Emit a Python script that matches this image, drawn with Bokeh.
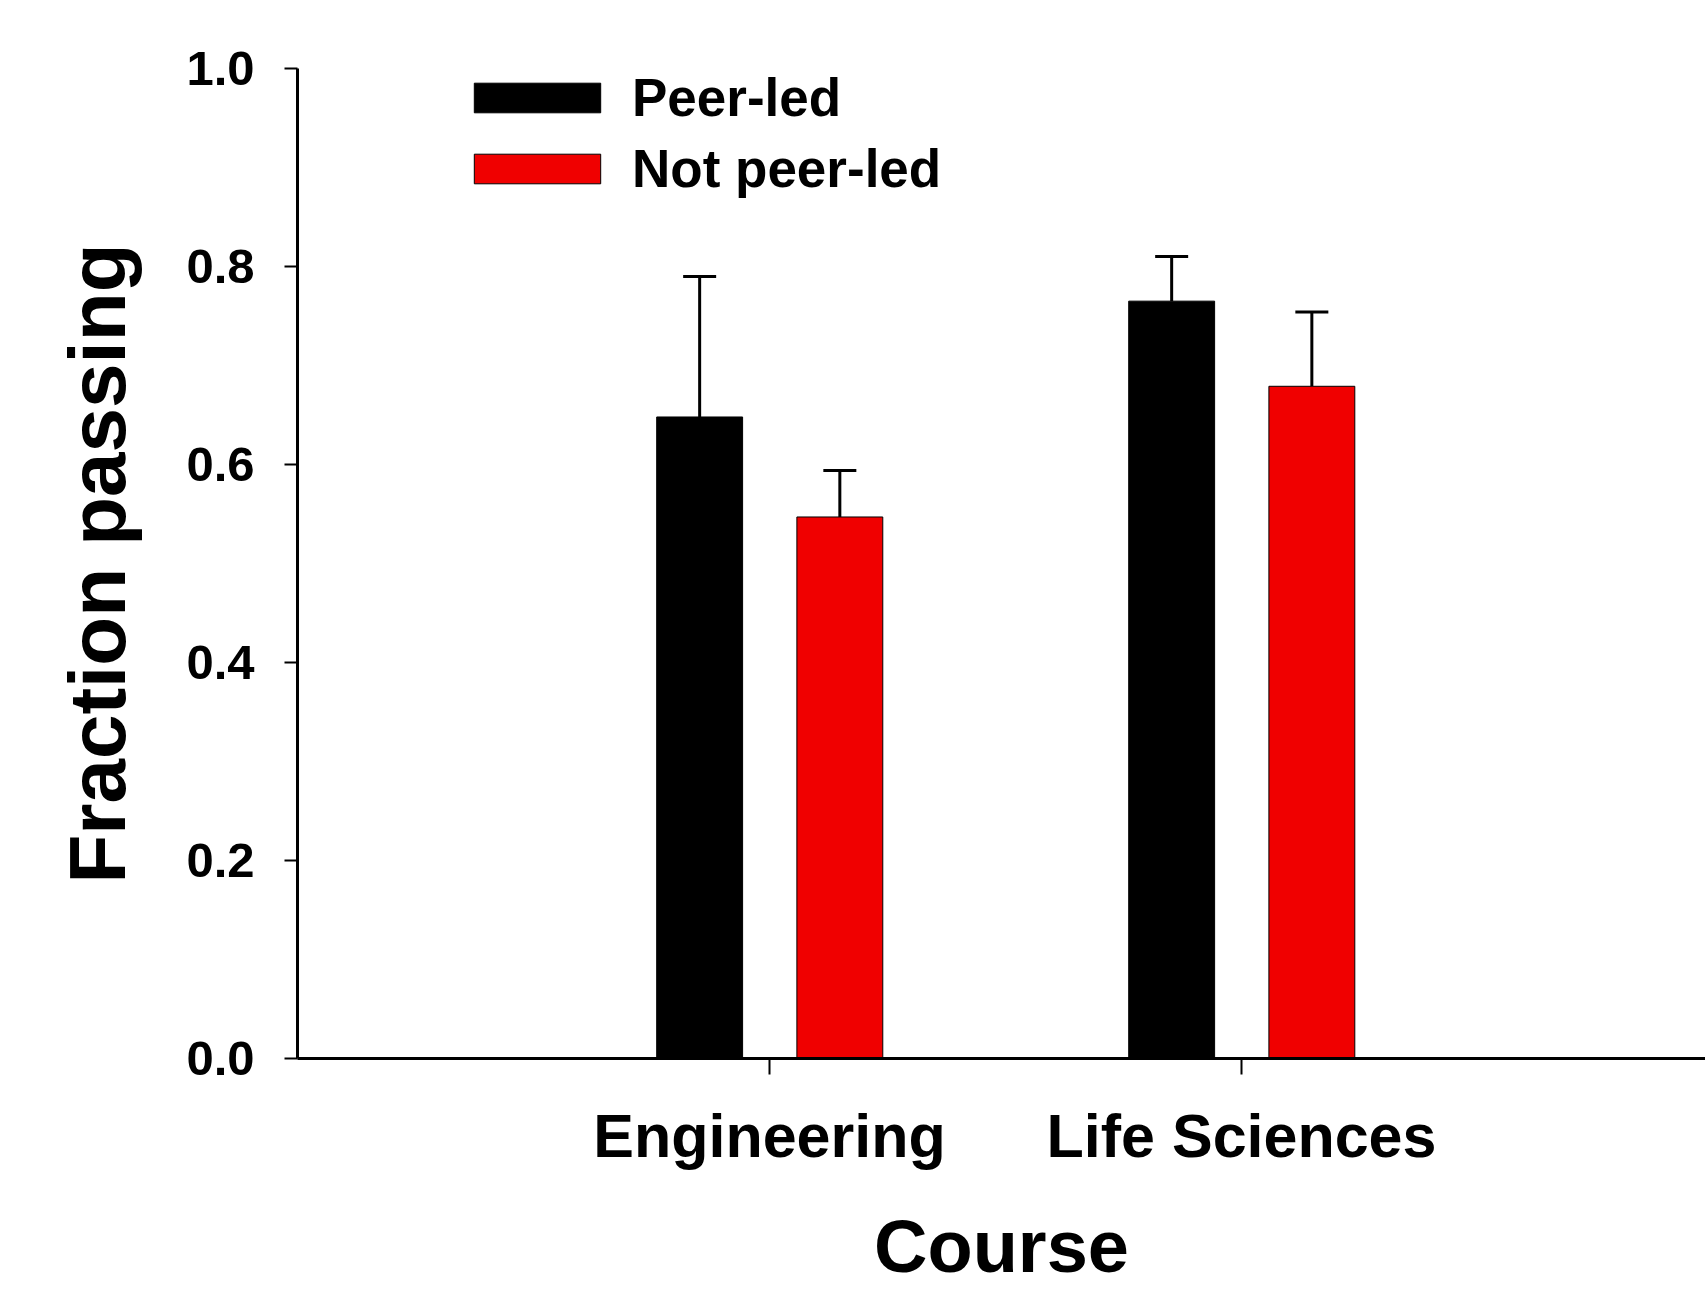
from bokeh.plotting import figure
from bokeh.models import ColumnDataSource, Whisker, TeeHead, FixedTicker, Range1d
from bokeh.embed import file_html
from bokeh.resources import INLINE
import numpy as np

# ---- data ----
categories = ["Engineering", "Life Sciences"]
series_names = ["Peer-led", "Not peer-led"]
peer_led = [0.648, 0.765]
peer_led_err = [0.142, 0.045]
not_peer_led = [0.547, 0.679]
not_peer_led_err = [0.047, 0.075]
y_ticks = [0.0, 0.2, 0.4, 0.6, 0.8, 1.0]
x_title = "Course"
y_title = "Fraction passing"

FONT = "Liberation Sans"
colors = ["#000000", "#F00000"]
offsets = [-0.148, 0.149]
bar_w = 0.182

pos = np.arange(1, len(categories) + 1)
xr = Range1d(0, 2.983)
yr = Range1d(0, 1.0)

p = figure(width=1705, height=1290, output_backend="svg", toolbar_location=None,
           x_range=xr, y_range=yr,
           min_border_left=297, min_border_right=0, min_border_top=68, min_border_bottom=231)
p.outline_line_color = None
p.xgrid.visible = False
p.ygrid.visible = False
p.background_fill_color = "white"
p.border_fill_color = "white"

for vals, errs, name, col, off in zip([peer_led, not_peer_led], [peer_led_err, not_peer_led_err],
                                       series_names, colors, offsets):
    v = np.array(vals)
    e = np.array(errs)
    src = ColumnDataSource(dict(x=pos + off, top=v, upper=v + e))
    p.vbar(x="x", top="top", bottom=0, width=bar_w, source=src, fill_color=col,
           line_color="black", line_width=1, legend_label=name)
    w = Whisker(base="x", upper="upper", lower="top", source=src, dimension="height",
                upper_head=TeeHead(size=33, line_width=3, line_color="black"), lower_head=None,
                line_width=3, line_color="black")
    p.add_layout(w)

# y axis
ya = p.yaxis[0]
ya.ticker = FixedTicker(ticks=y_ticks)
ya.major_label_overrides = {t: f"{t:.1f}" for t in y_ticks}
ya.minor_tick_line_color = None
ya.major_tick_in = 0
ya.major_tick_out = 13
ya.major_tick_line_width = 2
ya.axis_line_width = 3
ya.major_label_text_font = FONT
ya.major_label_text_font_style = "bold"
ya.major_label_text_font_size = "49px"
ya.major_label_text_color = "black"
ya.major_label_standoff = 30
ya.axis_label = y_title
ya.axis_label_text_font = FONT
ya.axis_label_text_font_style = "bold"
ya.axis_label_text_font_size = "80px"
ya.axis_label_text_color = "black"
ya.axis_label_standoff = 41

# x axis
xa = p.xaxis[0]
xa.ticker = FixedTicker(ticks=list(pos))
xa.major_label_overrides = {int(i): c for i, c in zip(pos, categories)}
xa.minor_tick_line_color = None
xa.major_tick_in = 0
xa.major_tick_out = 16
xa.major_tick_line_width = 2
xa.axis_line_width = 3
xa.major_label_text_font = FONT
xa.major_label_text_font_style = "bold"
xa.major_label_text_font_size = "61px"
xa.major_label_text_color = "black"
xa.major_label_standoff = 27
xa.axis_label = x_title
xa.axis_label_text_font = FONT
xa.axis_label_text_font_style = "bold"
xa.axis_label_text_font_size = "74px"
xa.axis_label_text_color = "black"
xa.axis_label_standoff = 32

# legend
lg = p.legend[0]
lg.location = (161, 859)
lg.border_line_color = None
lg.background_fill_alpha = 0
lg.padding = 0
lg.margin = 0
lg.spacing = 10
lg.glyph_width = 158
lg.glyph_height = 37
lg.label_height = 60
lg.label_standoff = 16
lg.label_text_font = FONT
lg.label_text_font_style = "bold"
lg.label_text_font_size = "53px"
lg.label_text_color = "black"

open("out.html", "w").write(file_html(p, INLINE))
